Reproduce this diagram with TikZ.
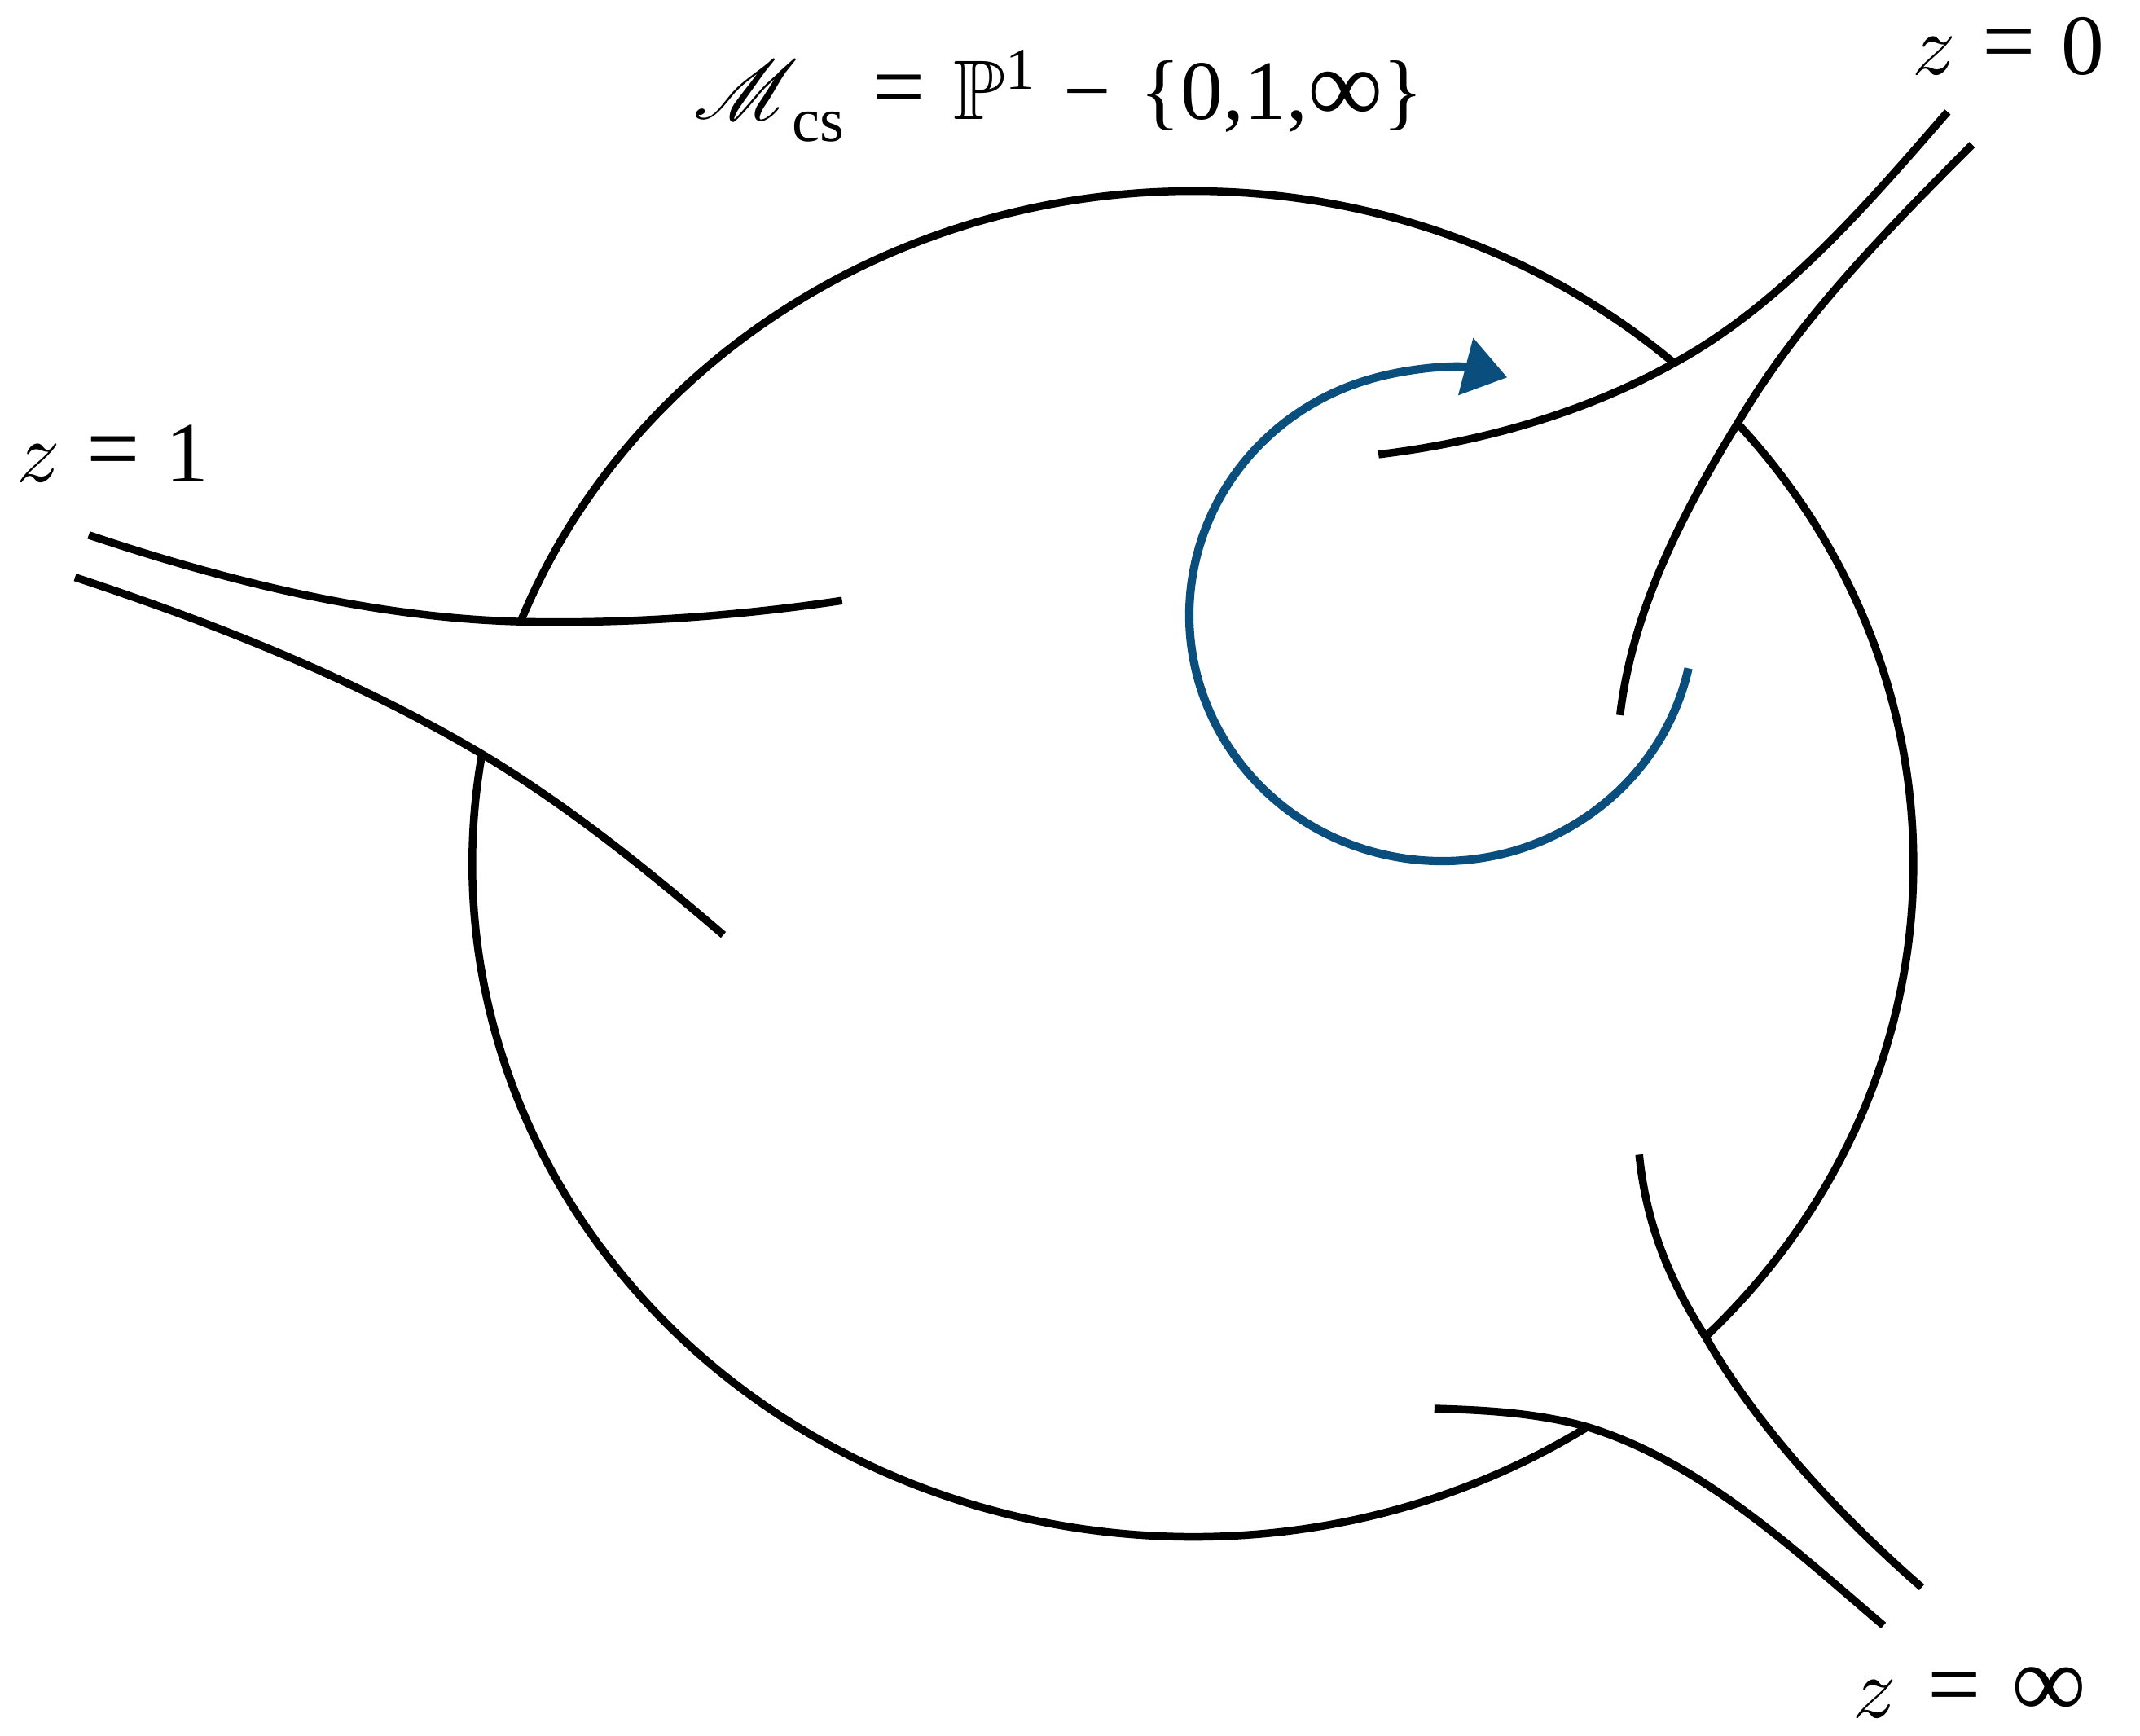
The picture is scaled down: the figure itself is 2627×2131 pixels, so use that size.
\documentclass[tikz,border=0pt]{standalone}
\usepackage{amssymb}
\usepackage{mathrsfs}
\usepackage{graphicx}
\usepackage{fontspec}
\setmainfont{Liberation Serif}
\usetikzlibrary{arrows.meta,calc}
\definecolor{arrowblue}{RGB}{10,78,125}
\newcommand{\lblsp}{\hspace{0.3em}}
\newcommand{\zvar}{\scalebox{3}{\fontsize{10}{12}\selectfont$z$}}
\newcommand{\eqsign}{\scalebox{1.1}[1.15]{=}}
\begin{document}
\begin{tikzpicture}[x=0.01cm,y=-0.01cm,
  curve/.style={line width=2.7pt, black},
  lbl/.style={inner sep=0pt, anchor=base west},
  turn/.style={arrowblue, line width=2.9pt, -{Triangle[length=15pt,width=20pt]}}]
\useasboundingbox (0,0) rectangle (2627,2131);
% ellipse centre and junctions
\coordinate (C) at (1464.3,1060.5);
\coordinate (J1a) at ($(C)+(-158.9:884.6 and 826)$);
\coordinate (J1b) at ($(C)+(189.4:884.6 and 826)$);
\coordinate (J0a) at ($(C)+(-48.1:884.6 and 826)$);
\coordinate (J0b) at ($(C)+(-40.9:884.6 and 826)$);
\coordinate (Jia) at ($(C)+(44.65:884.6 and 826)$);
\coordinate (Jib) at ($(C)+(56.8:884.6 and 826)$);
% ellipse arcs
\draw[curve] (J1a) arc[start angle=-158.9, end angle=-48.1, x radius=884.6, y radius=826];
\draw[curve] (J0b) arc[start angle=-40.9, end angle=44.65, x radius=884.6, y radius=826];
\draw[curve] (Jib) arc[start angle=56.8, end angle=189.4, x radius=884.6, y radius=826];
% z = 1 tube
\coordinate (U1i) at (1033.7,737.2);
\coordinate (U1o) at (108.9,656.8);
\coordinate (L1i) at (888.0,1147.6);
\coordinate (L1o) at (92.1,708.7);
\draw[curve] (U1i) .. controls (905.1,756.4) and (768.3,766.2) .. (J1a)
  .. controls (458.3,758.5) and (275.3,712.5) .. (U1o);
\draw[curve] (L1i) .. controls (795.7,1068.6) and (700.2,991.1) .. (J1b)
  .. controls (433.8,832.3) and (263.1,765.0) .. (L1o);
% z = 0 tube
\coordinate (U0i) at (1692.2,557.9);
\coordinate (U0o) at (2390.8,137.4);
\coordinate (L0i) at (1988.7,877.9);
\coordinate (L0o) at (2421.0,177.6);
\draw[curve] (U0i) .. controls (1816.3,543.0) and (1944.5,507.6) .. (J0a)
  .. controls (2185.4,375.0) and (2292.4,250.7) .. (U0o);
\draw[curve] (L0i) .. controls (2003.7,750.9) and (2062.2,634.8) .. (J0b)
  .. controls (2206.5,394.1) and (2314.9,283.7) .. (L0o);
% z = infinity tube
\coordinate (Ai) at (2012.2,1417.4);
\coordinate (Ao) at (2359.0,1948.5);
\coordinate (Bi) at (1760.8,1729.0);
\coordinate (Bo) at (2312.1,1995.4);
\draw[curve] (Ai) .. controls (2020.2,1497.0) and (2045.6,1566.0) .. (Jia)
  .. controls (2157.6,1752.8) and (2260.5,1862.9) .. (Ao);
\draw[curve] (Bi) .. controls (1823.8,1730.9) and (1888.1,1734.4) .. (Jib)
  .. controls (2087.4,1794.1) and (2201.6,1901.4) .. (Bo);
% monodromy arrow
\coordinate (A0) at ($(1770,755)+(12.5:310 and 302)$);
\draw[turn] (A0) arc[start angle=12.5, end angle=285, x radius=310, y radius=302];
% labels
\node[lbl] (title) at (851,147) {\scalebox{2.95}{\(\mathscr{M}\)\hspace{-0.08em}\raisebox{-2.6pt}{\fontsize{7.4}{8}\selectfont cs}\hspace{0.34em}\eqsign\hspace{0.34em}\(\mathbb{P}\)\raisebox{3.6pt}{\fontsize{7}{8}\selectfont 1}\hspace{0.34em}−\hspace{0.34em}\{0,1,\raisebox{-0.3pt}{\scalebox{1.25}{∞}}\}}};
\node[lbl] (z0) at (2347,92) {\fontsize{30}{36}\selectfont\zvar\lblsp\eqsign\lblsp0};
\node[lbl] (z1) at (20,592) {\fontsize{30}{36}\selectfont\zvar\lblsp\eqsign\lblsp1};
\node[lbl] (zinf) at (2274,2108) {\fontsize{30}{36}\selectfont\zvar\hspace{0.36em}\eqsign\hspace{0.36em}\scalebox{1.22}{∞}};
\end{tikzpicture}
\end{document}
